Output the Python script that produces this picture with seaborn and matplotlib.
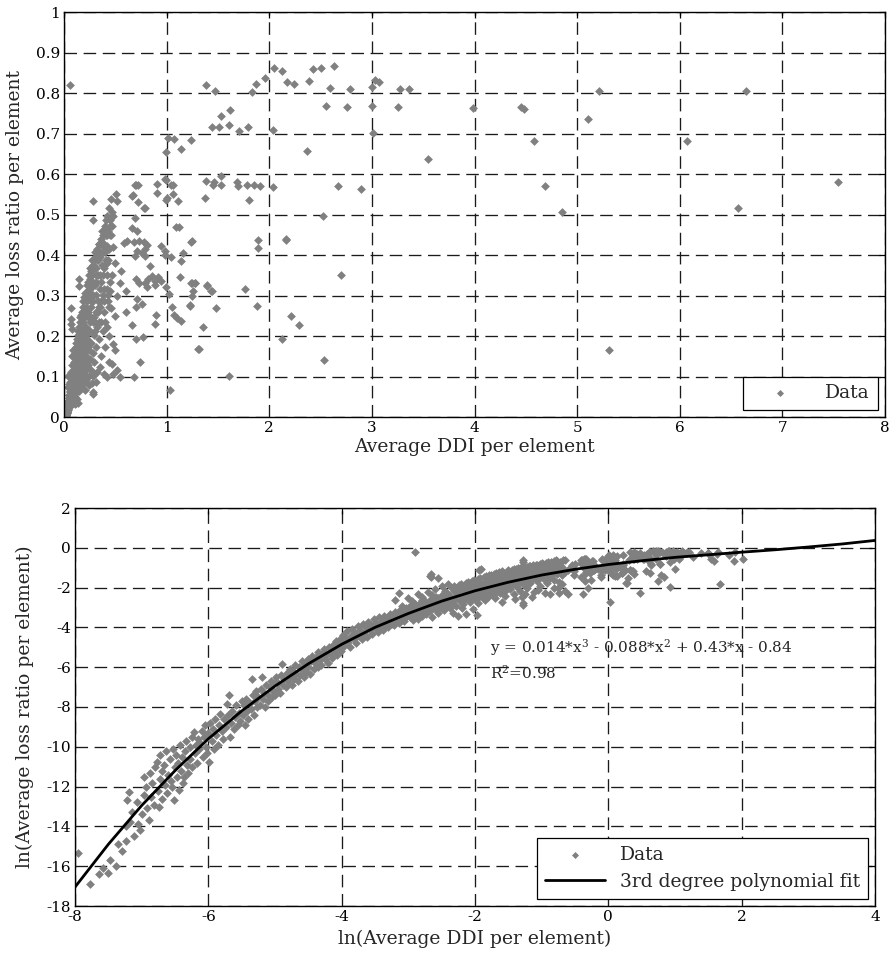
import matplotlib.pyplot as plt
import numpy as np
import pandas as pd
import seaborn as sns
from matplotlib.ticker import FormatStrFormatter

# scattered points (raw DDI, raw loss ratio)
sparse_pts = [
    (0.51, 0.551), (0.52, 0.533), (0.67, 0.547), (0.70, 0.573), (0.72, 0.572), (0.79, 0.517),
    (0.72, 0.531), (0.91, 0.576), (0.91, 0.552), (0.98, 0.587), (0.99, 0.535), (1.04, 0.572),
    (1.06, 0.55), (1.11, 0.533), (0.99, 0.654), (1.01, 0.689), (1.07, 0.686), (1.14, 0.661),
    (1.24, 0.685), (1.12, 0.469), (1.09, 0.469), (1.38, 0.82), (1.47, 0.805), (1.53, 0.744),
    (1.62, 0.758), (1.44, 0.715), (1.51, 0.715), (1.61, 0.722), (1.71, 0.705), (1.79, 0.715),
    (1.83, 0.802), (1.87, 0.821), (1.96, 0.836), (2.05, 0.862), (2.12, 0.855), (2.17, 0.826),
    (2.24, 0.822), (2.04, 0.708), (1.37, 0.541), (1.38, 0.582), (1.45, 0.574), (1.53, 0.595),
    (1.53, 0.574), (1.69, 0.58), (1.70, 0.57), (1.78, 0.574), (1.80, 0.535), (1.85, 0.574),
    (1.91, 0.57), (2.04, 0.567), (2.39, 0.829), (2.43, 0.859), (2.50, 0.862), (2.63, 0.866),
    (2.59, 0.812), (2.55, 0.768), (2.76, 0.765), (2.79, 0.809), (3.00, 0.816), (3.03, 0.832),
    (3.07, 0.828), (3.00, 0.768), (3.01, 0.701), (3.25, 0.765), (3.27, 0.809), (3.36, 0.809),
    (2.37, 0.658), (3.55, 0.638), (3.99, 0.762), (4.45, 0.766), (4.48, 0.76), (4.58, 0.681),
    (4.69, 0.57), (4.85, 0.507), (5.11, 0.735), (5.21, 0.805), (2.67, 0.571), (2.89, 0.563),
    (2.52, 0.496), (2.16, 0.439), (6.65, 0.805), (6.07, 0.681), (7.54, 0.581), (6.57, 0.517),
    (5.31, 0.165), (1.89, 0.437), (1.89, 0.418), (2.16, 0.437), (1.76, 0.316), (1.88, 0.275),
    (2.12, 0.192), (2.29, 0.228), (1.61, 0.101), (1.32, 0.168), (1.35, 0.222), (1.48, 0.269),
    (1.39, 0.326), (1.44, 0.312), (1.26, 0.312), (1.24, 0.331), (1.28, 0.331), (1.24, 0.432),
    (1.23, 0.276), (1.03, 0.066), (2.53, 0.14), (2.70, 0.35), (2.21, 0.25), (0.28, 0.533),
    (0.147, 0.341), (0.07, 0.27), (0.07, 0.23), (0.28, 0.061), (0.685, 0.10), (0.74, 0.136),
    (0.66, 0.226), (0.70, 0.193), (0.77, 0.197), (0.89, 0.23), (0.90, 0.253), (1.05, 0.271),
    (1.07, 0.253), (1.10, 0.245), (1.14, 0.238), (1.23, 0.275), (1.31, 0.167), (1.46, 0.581),
    (0.99, 0.584), (1.00, 0.541), (1.06, 0.572), (1.25, 0.435), (1.16, 0.406), (1.14, 0.386),
    (1.04, 0.394), (0.95, 0.423), (0.98, 0.40), (0.98, 0.41), (1.13, 0.345), (1.25, 0.33),
    (1.28, 0.33), (1.39, 0.324), (1.43, 0.312), (1.25, 0.30), (0.69, 0.572), (0.66, 0.545),
    (0.78, 0.517), (0.69, 0.492), (0.66, 0.467), (0.71, 0.46), (0.61, 0.435), (0.58, 0.43),
    (0.68, 0.431), (0.73, 0.435), (0.78, 0.431), (0.81, 0.425), (0.71, 0.41), (0.76, 0.405),
    (0.79, 0.415), (0.69, 0.398), (0.79, 0.398), (0.835, 0.373), (0.70, 0.341), (0.73, 0.33),
    (0.79, 0.33), (0.82, 0.34), (0.86, 0.349), (0.89, 0.335), (0.92, 0.345), (0.95, 0.335),
    (0.99, 0.32), (0.81, 0.32), (0.89, 0.325), (1.02, 0.304), (0.71, 0.292), (0.76, 0.28),
    (0.70, 0.271), (0.60, 0.259), (0.50, 0.165), (0.47, 0.132), (0.52, 0.115), (0.42, 0.10),
    (0.55, 0.10), (0.48, 0.105), (0.45, 0.45), (0.48, 0.42), (0.50, 0.38), (0.47, 0.35),
    (0.55, 0.33), (0.52, 0.30), (0.46, 0.27), (0.50, 0.25), (0.44, 0.20), (0.48, 0.18),
    (0.56, 0.36), (0.60, 0.31), (0.42, 0.38), (0.45, 0.31),
]

# dense band, in ln units (ln DDI, ln loss)
tail_pts = [
    (-7.96, -15.33), (-7.77, -16.9), (-7.64, -16.37), (-7.58, -16.1), (-7.51, -16.33), (-7.47, -15.67),
    (-7.39, -16.0), (-7.36, -14.9), (-7.29, -15.25), (-7.24, -14.75), (-7.23, -14.0), (-7.18, -13.8),
    (-7.12, -14.5), (-7.22, -12.67), (-7.19, -12.25), (-7.14, -13.3), (-7.07, -12.75), (-7.05, -13.9),
    (-7.02, -14.2), (-6.99, -13.4), (-6.97, -12.42), (-6.97, -11.5), (-6.94, -12.0), (-6.92, -13.1),
    (-6.89, -13.67), (-6.88, -11.3), (-6.86, -12.5), (-6.84, -11.8), (-6.82, -12.9), (-6.80, -11.0),
    (-6.77, -10.75), (-6.76, -12.2), (-6.74, -13.0), (-6.73, -11.6), (-6.72, -10.42), (-6.70, -11.2),
    (-6.69, -12.6), (-6.67, -10.9), (-6.65, -11.9), (-6.63, -10.2), (-6.62, -12.3), (-6.60, -11.4),
    (-6.58, -10.6), (-6.56, -11.7), (-6.55, -12.0), (-6.53, -10.1), (-6.52, -12.67), (-6.50, -11.0),
    (-6.48, -10.4), (-6.47, -11.5), (-6.45, -10.8), (-6.44, -12.17), (-6.42, -9.9), (-6.41, -11.2),
    (-6.40, -10.5), (-6.38, -11.8), (-6.37, -11.5), (-6.35, -10.2), (-6.33, -9.7), (-6.32, -10.9),
    (-6.30, -11.3), (-6.28, -10.0), (-6.27, -10.6), (-6.25, -9.5), (-6.24, -11.0), (-6.22, -9.25),
    (-6.20, -10.3), (-6.19, -9.9), (-6.17, -10.8), (-6.15, -9.6), (-6.14, -10.1), (-6.12, -9.83),
    (-6.10, -9.2), (-6.08, -10.5), (-6.06, -9.5), (-6.05, -8.9), (-6.03, -10.0), (-6.02, -10.33),
    (-6.00, -9.3), (-5.99, -10.75), (-5.97, -8.8), (-5.95, -9.7), (-5.93, -9.1), (-5.92, -10.1),
    (-5.90, -8.6), (-5.88, -9.4), (-5.86, -9.9), (-5.84, -8.9), (-5.82, -8.33), (-5.80, -9.2),
    (-5.78, -9.6), (-5.76, -8.6), (-5.74, -9.0), (-5.72, -7.83), (-5.70, -8.4), (-5.69, -7.42),
    (-5.67, -9.5), (-5.66, -8.8), (-5.64, -8.2), (-5.62, -9.1), (-5.60, -8.5), (-5.58, -7.9),
    (-5.56, -8.9), (-5.54, -8.3), (-5.52, -8.7), (-5.50, -7.7),
]

mid_pts = [
    (-5.48, -8.4), (-5.46, -7.9), (-5.45, -8.9), (-5.43, -7.6), (-5.42, -8.2), (-5.40, -8.6),
    (-5.38, -7.8), (-5.36, -8.1), (-5.34, -6.58), (-5.33, -7.4), (-5.31, -8.4), (-5.30, -7.7),
    (-5.28, -7.2), (-5.27, -8.0), (-5.25, -7.5), (-5.23, -7.9), (-5.21, -7.1), (-5.19, -6.5),
    (-5.18, -7.6), (-5.16, -7.3), (-5.15, -8.0), (-5.13, -6.9), (-5.11, -7.4), (-5.10, -7.7),
    (-5.08, -7.0), (-5.06, -6.7), (-5.05, -7.5), (-5.03, -7.2), (-5.01, -6.8), (-5.00, -7.4),
    (-4.98, -6.5), (-4.96, -7.1), (-4.95, -6.8), (-4.93, -7.3), (-4.91, -6.4), (-4.89, -5.83),
    (-4.88, -6.9), (-4.86, -6.6), (-4.84, -7.0), (-4.82, -6.3), (-4.80, -6.7), (-4.78, -6.1),
    (-4.77, -6.45), (-4.75, -6.9), (-4.73, -6.2), (-4.71, -6.6), (-4.70, -5.9), (-4.68, -6.35),
    (-4.66, -6.7), (-4.64, -6.0), (-4.62, -6.4), (-4.60, -5.7), (-4.58, -6.15), (-4.56, -6.5),
    (-4.55, -5.85), (-4.53, -6.25), (-4.51, -5.6), (-4.50, -6.0), (-4.48, -6.35), (-4.46, -5.7),
    (-4.44, -5.45), (-4.42, -6.1), (-4.40, -5.8), (-4.38, -5.5), (-4.36, -6.0), (-4.35, -5.25),
    (-4.33, -5.65), (-4.31, -5.9), (-4.29, -5.35), (-4.27, -5.1), (-4.25, -5.6), (-4.23, -5.4),
    (-4.21, -5.8), (-4.19, -5.0), (-4.17, -5.3), (-4.15, -5.55), (-4.13, -4.9), (-4.11, -5.2),
    (-4.09, -4.7), (-4.07, -5.4), (-4.05, -5.0), (-4.03, -4.6), (-4.01, -5.2), (-4.00, -4.8),
    (-3.98, -4.4), (-3.96, -4.95), (-3.94, -4.6), (-3.92, -4.2), (-3.90, -4.75), (-3.88, -5.0),
    (-3.86, -4.45), (-3.84, -4.1), (-3.82, -4.6), (-3.80, -4.3), (-3.78, -4.8), (-3.76, -3.95),
    (-3.74, -4.45), (-3.72, -4.15), (-3.70, -4.6), (-3.68, -3.85), (-3.66, -4.3), (-3.64, -4.0),
    (-3.62, -4.5), (-3.60, -3.75), (-3.58, -4.15), (-3.56, -3.9), (-3.54, -4.35), (-3.52, -3.6),
    (-3.50, -4.05), (-3.48, -3.8), (-3.46, -4.25), (-3.44, -3.5), (-3.42, -3.95), (-3.40, -3.7),
    (-3.38, -4.15), (-3.36, -3.45), (-3.34, -3.85), (-3.32, -3.6), (-3.30, -4.0), (-3.28, -3.35),
    (-3.26, -3.75), (-3.24, -3.5), (-3.22, -3.9), (-3.20, -3.25), (-3.18, -3.65), (-3.16, -3.4),
    (-3.14, -2.28), (-3.14, -3.8), (-3.12, -3.15), (-3.10, -3.55), (-3.08, -3.3), (-3.06, -3.7),
    (-3.04, -3.05), (-3.02, -3.45), (-3.00, -3.2),
]

upper_pts = [
    (-2.98, -3.5), (-2.97, -2.9), (-2.95, -3.3), (-2.93, -3.65), (-2.92, -3.1), (-2.90, -2.8),
    (-2.90, -0.2), (-2.88, -3.4), (-2.86, -3.0), (-2.85, -3.6), (-2.83, -2.75), (-2.82, -3.25),
    (-2.80, -3.45), (-2.78, -2.95), (-2.77, -3.15), (-2.75, -2.65), (-2.73, -3.35), (-2.72, -3.0),
    (-2.70, -2.8), (-2.68, -1.42), (-2.68, -3.2), (-2.66, -2.55), (-2.65, -3.5), (-2.63, -2.9),
    (-2.62, -2.7), (-2.60, -3.1), (-2.58, -2.45), (-2.57, -2.85), (-2.55, -1.53), (-2.55, -3.3),
    (-2.53, -2.6), (-2.52, -2.95), (-2.50, -2.35), (-2.48, -2.75), (-2.47, -3.15), (-2.45, -2.5),
    (-2.43, -2.85), (-2.42, -2.25), (-2.40, -2.65), (-2.38, -3.0), (-2.37, -2.4), (-2.35, -2.75),
    (-2.33, -3.3), (-2.32, -2.15), (-2.30, -2.55), (-2.28, -2.9), (-2.27, -2.3), (-2.25, -3.45),
    (-2.23, -2.65), (-2.22, -2.05), (-2.20, -2.45), (-2.20, -3.0), (-2.18, -2.8), (-2.17, -2.2),
    (-2.15, -2.55), (-2.13, -3.35), (-2.12, -1.95), (-2.10, -2.35), (-2.08, -2.7), (-2.07, -2.1),
    (-2.05, -2.5), (-2.03, -3.1), (-2.02, -1.85), (-2.00, -2.25), (-1.98, -2.6), (-1.97, -3.4),
    (-1.96, -2.0), (-1.94, -1.13), (-1.94, -2.4), (-1.92, -1.75), (-1.90, -2.15), (-1.88, -2.5),
    (-1.87, -1.9), (-1.85, -2.3), (-1.83, -1.65), (-1.82, -2.05), (-1.80, -2.45), (-1.78, -1.8),
    (-1.77, -2.2), (-1.75, -1.55), (-1.73, -1.95), (-1.72, -2.35), (-1.70, -1.7), (-1.68, -2.1),
    (-1.67, -1.45), (-1.65, -1.85), (-1.63, -2.25), (-1.62, -1.6), (-1.60, -2.0), (-1.58, -1.35),
    (-1.57, -1.75), (-1.55, -2.15), (-1.53, -1.5), (-1.52, -1.9), (-1.50, -1.25), (-1.48, -1.65),
    (-1.47, -2.05), (-1.45, -1.4), (-1.43, -1.8), (-1.42, -2.3), (-1.40, -1.2), (-1.38, -1.55),
    (-1.37, -1.95), (-1.35, -1.3), (-1.33, -1.7), (-1.32, -2.15), (-1.30, -2.47), (-1.30, -1.1),
    (-1.28, -0.72), (-1.28, -2.87), (-1.28, -1.45), (-1.27, -1.85), (-1.25, -1.2), (-1.23, -1.6),
    (-1.22, -2.0), (-1.20, -1.0), (-1.18, -1.35), (-1.17, -1.75), (-1.15, -1.1), (-1.13, -1.5),
    (-1.12, -2.2), (-1.10, -0.95), (-1.08, -1.3), (-1.07, -1.65), (-1.05, -1.05), (-1.03, -1.45),
    (-1.02, -1.9), (-1.00, -0.85), (-0.98, -1.2), (-0.97, -1.55), (-0.95, -1.0), (-0.93, -1.35),
    (-0.92, -1.75), (-0.90, -0.8), (-0.88, -1.15), (-0.87, -1.5), (-0.85, -0.95), (-0.83, -1.3),
    (-0.82, -2.0), (-0.80, -0.75), (-0.80, -1.1), (-2.96, -3.05), (-2.87, -3.2), (-2.79, -2.6),
    (-2.71, -3.05), (-2.64, -2.75), (-2.56, -2.5), (-2.49, -3.0), (-2.41, -2.45), (-2.34, -2.6),
    (-2.26, -2.1), (-2.19, -2.6), (-2.11, -2.15), (-2.04, -2.4), (-1.99, -1.8), (-1.91, -2.3),
    (-1.84, -1.85), (-1.76, -2.05), (-1.69, -1.55), (-1.61, -1.8), (-1.54, -1.35), (-1.46, -1.55),
    (-1.39, -1.7), (-1.31, -1.25), (-1.24, -1.4), (-1.16, -1.2), (-1.09, -1.45), (-1.01, -1.1),
    (-0.94, -1.25), (-0.86, -1.05), (-1.44, -1.1), (-1.36, -1.45), (-1.26, -1.0), (-1.19, -1.55),
    (-1.11, -1.25), (-1.04, -1.3), (-0.96, -0.9), (-0.91, -1.45), (-0.84, -1.2),
]

# extra points filling the dense wedge of the upper panel (ln units)
core_pts = [
    (-2.35, -2.0), (-2.31, -1.9), (-2.28, -2.2), (-2.24, -1.85), (-2.21, -1.8), (-2.18, -2.05),
    (-2.14, -1.75), (-2.11, -1.7), (-2.08, -1.95), (-2.05, -1.65), (-2.02, -1.6), (-1.99, -2.1),
    (-1.96, -1.55), (-1.93, -1.5), (-1.90, -1.85), (-1.87, -1.45), (-1.84, -1.4), (-1.81, -1.7),
    (-1.79, -1.38), (-1.76, -1.35), (-1.73, -1.6), (-1.71, -1.3), (-1.68, -1.25), (-1.66, -1.5),
    (-1.64, -1.22), (-1.61, -1.4), (-1.59, -1.18), (-1.56, -1.3), (-1.54, -1.6), (-1.51, -1.12),
    (-1.49, -1.2), (-1.46, -1.35), (-1.44, -1.75), (-1.41, -1.05), (-1.39, -1.15), (-1.36, -1.0),
    (-1.34, -1.4), (-1.31, -1.05), (-1.29, -0.95), (-1.26, -1.25), (-1.24, -1.0), (-1.21, -1.45),
    (-1.19, -0.9), (-1.16, -1.05), (-1.14, -0.95), (-1.11, -1.35), (-1.09, -0.85), (-1.06, -1.15),
    (-1.04, -0.9), (-1.01, -1.25), (-0.99, -0.78), (-0.97, -1.05), (-0.95, -0.85), (-0.93, -1.15),
    (-0.91, -0.75), (-0.89, -0.95), (-0.87, -0.8), (-0.85, -1.25), (-0.83, -0.88), (-0.81, -0.72),
    (-1.85, -2.6), (-1.70, -2.5), (-1.55, -2.4), (-1.40, -2.55), (-1.25, -2.3), (-1.15, -2.45),
    (-1.60, -2.7), (-1.95, -2.75), (-1.05, -2.1), (-0.95, -2.25), (-3.20, -2.6), (-3.00, -2.5),
    (-2.85, -2.3), (-2.70, -2.2), (-2.60, -2.05), (-2.50, -1.9), (-2.45, -2.15), (-2.40, -1.8),
    (-3.10, -2.9), (-2.95, -2.65), (-2.80, -2.45), (-2.65, -2.35),
]

# top of the wedge, DDI ~0.25-0.47 and loss ~0.3-0.55 (ln units)
wedge_top_pts = [
    (-1.42, -1.15), (-1.38, -1.08), (-1.33, -1.02), (-1.30, -1.2), (-1.27, -0.98), (-1.22, -0.95),
    (-1.20, -1.12), (-1.17, -0.92), (-1.13, -0.88), (-1.10, -1.05), (-1.07, -0.85), (-1.03, -0.82),
    (-1.00, -0.98), (-0.98, -0.8), (-0.94, -0.78), (-0.92, -0.9), (-0.90, -0.72), (-0.88, -0.86),
    (-0.86, -0.7), (-0.84, -0.78), (-0.82, -0.66), (-0.79, -0.8), (-0.77, -0.68), (-0.75, -0.75),
    (-0.78, -0.62), (-0.73, -0.7), (-1.35, -1.25), (-1.25, -1.12), (-1.15, -1.0), (-1.05, -0.93),
    (-0.96, -0.86),
]

# fitted curve (ln units)
fit_ln_ddi = [-8, -7.5, -7, -6.5, -6, -5.5, -5, -4.5, -4, -3.5, -3, -2.5, -2,
              -1.5, -1, -0.5, 0, 0.5, 1, 1.5, 2, 2.5, 3, 3.5, 4]
fit_ln_loss = [-17.05, -14.9, -12.95, -11.2, -9.6, -8.2, -6.95, -5.83, -4.85, -4.0, -3.3, -2.68, -2.16,
               -1.73, -1.37, -1.08, -0.84, -0.65, -0.48, -0.35, -0.22, -0.1, 0.04, 0.19, 0.37]

fit_text = "y = 0.014*x$^3$ - 0.088*x$^2$ + 0.43*x - 0.84"
r2_text = "R$^2$=0.98"

top_xticks = [0, 1, 2, 3, 4, 5, 6, 7, 8]
top_yticks = [0, 0.1, 0.2, 0.3, 0.4, 0.5, 0.6, 0.7, 0.8, 0.9, 1]
bot_xticks = [-8, -6, -4, -2, 0, 2, 4]
bot_yticks = [-18, -16, -14, -12, -10, -8, -6, -4, -2, 0, 2]

# one dataset, shown raw on top and as logs below
sparse = np.array(sparse_pts)
band = np.array(tail_pts + mid_pts + upper_pts + core_pts + wedge_top_pts)
df = pd.DataFrame({
    "ddi": np.concatenate([sparse[:, 0], np.exp(band[:, 0])]),
    "loss": np.concatenate([sparse[:, 1], np.exp(band[:, 1])]),
})
df["ln_ddi"] = np.log(df["ddi"])
df["ln_loss"] = np.log(df["loss"])

sns.set_style("white")
plt.rcParams["font.family"] = ["DejaVu Serif"]
plt.rcParams["mathtext.fontset"] = "dejavuserif"
plt.rcParams["axes.unicode_minus"] = False

gray = "#808080"
fig = plt.figure(figsize=(8.9, 9.58), dpi=100)
ax1 = fig.add_axes([64 / 890, 1 - 417 / 958, 821 / 890, 405 / 958])
ax2 = fig.add_axes([75 / 890, 1 - 906 / 958, 800 / 890, 398 / 958])

sns.scatterplot(data=df, x="ddi", y="loss", ax=ax1, marker="D", s=20, color=gray,
                edgecolor=gray, linewidth=0, label="Data")
sns.scatterplot(data=df, x="ln_ddi", y="ln_loss", ax=ax2, marker="D", s=20, color=gray,
                edgecolor=gray, linewidth=0, label="Data")
sns.lineplot(x=fit_ln_ddi, y=fit_ln_loss, ax=ax2, color="black", linewidth=2,
             label="3rd degree polynomial fit", sort=False)

ax2.text(-1.77, -5.0, fit_text, fontsize=11, va="center")
ax2.text(-1.77, -6.3, r2_text, fontsize=11, va="center")

for ax, xt, yt in [(ax1, top_xticks, top_yticks), (ax2, bot_xticks, bot_yticks)]:
    ax.set_xlim(xt[0], xt[-1])
    ax.set_ylim(yt[0], yt[-1])
    ax.set_xticks(xt)
    ax.set_yticks(yt)
    ax.yaxis.set_major_formatter(FormatStrFormatter("%g"))
    ax.set_axisbelow(True)
    ax.grid(True, color="#1a1a1a", linestyle=(0, (9.5, 5)), linewidth=0.95)
    ax.tick_params(direction="in", length=4, width=0.9, top=True, right=True,
                   labelsize=11, pad=3, colors="black")
    for sp in ax.spines.values():
        sp.set_color("black")
        sp.set_linewidth(1.0)
    ax.legend(loc="lower right", fancybox=False, edgecolor="black", framealpha=1,
              fontsize=13.5, handlelength=3.2, handletextpad=0.8, markerscale=0.8,
              borderaxespad=0.4).get_frame().set_linewidth(0.9)

ax1.set_xlabel("Average DDI per element", fontsize=13.5)
ax1.set_ylabel("Average loss ratio per element", fontsize=13.5)
ax2.set_xlabel("ln(Average DDI per element)", fontsize=13.5)
ax2.set_ylabel("ln(Average loss ratio per element)", fontsize=13.5)
for ax, ylx, xly in [(ax1, -0.06, -0.075), (ax2, -0.0625, -0.083)]:
    ax.yaxis.label.set_va("center")
    ax.yaxis.set_label_coords(ylx, 0.5)
    ax.xaxis.label.set_va("center")
    ax.xaxis.set_label_coords(0.5, xly)

fig.savefig("out.png", dpi=100)
